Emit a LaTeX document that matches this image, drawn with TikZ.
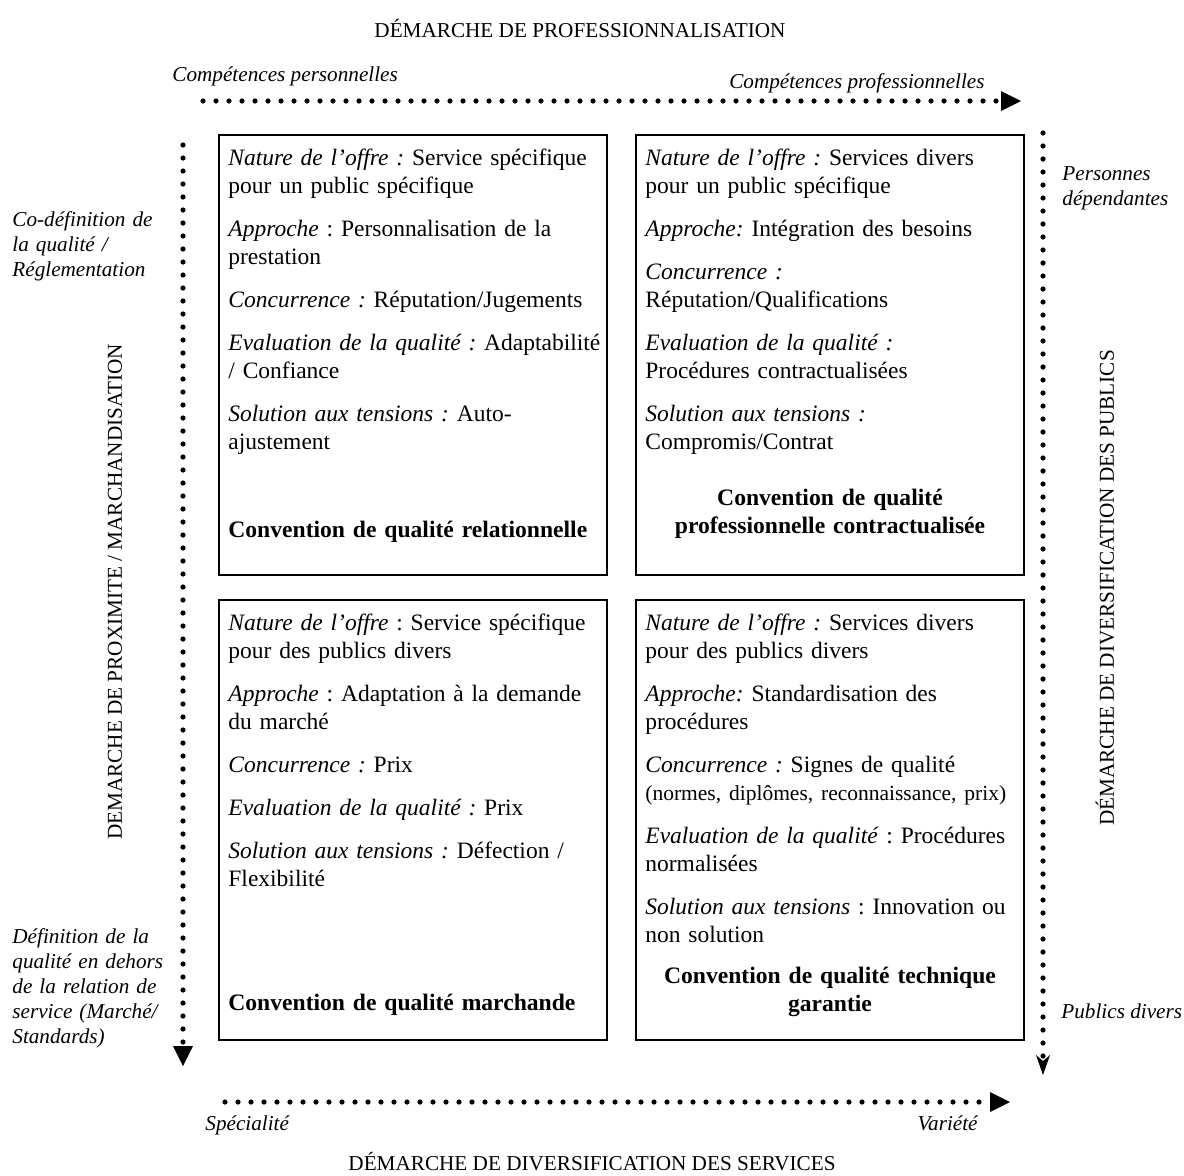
\documentclass[tikz,border=0pt]{standalone}
\usepackage{fontspec}
\setmainfont{Liberation Serif}
\usetikzlibrary{positioning, arrows.meta}
\frenchspacing

\begin{document}
\begin{tikzpicture}[x=0.5pt, y=-0.5pt,
      quad/.style={draw, line width=1pt, minimum width=194pt,
        minimum height=220pt, inner sep=0pt},
      contenu/.style={anchor=base west, inner sep=0pt, text width=200pt,
        align=left, font=\fontsize{11.75}{14}\selectfont},
      convention/.style={inner sep=0pt, text width=190pt,
        font=\fontsize{11.8}{14}\selectfont\bfseries},
      demarche/.style={inner sep=0pt, font=\fontsize{10.6}{13}\selectfont},
      pole/.style={inner sep=0pt, align=left,
        font=\fontsize{10.6}{12.5}\selectfont\itshape},
      pointille/.style={line width=2.6pt, line cap=round,
        dash pattern=on 0pt off 6.5pt},
      fleche/.style={pointille, -{Triangle[length=10pt, width=10pt, line width=0pt]}},
      fleche fine/.style={pointille, -{Stealth[length=10pt, width=7pt, inset=3pt, line width=0pt]}}]
    \useasboundingbox (0,0) rectangle (1184,1175);
    \fill[white] (0,0) rectangle (1184,1175);
    \node[quad] (hg) at (413,355) {};
    \node[quad, right=13.5pt of hg] (hd) {};
    \node[quad, below=11.5pt of hg] (bg) {};
    \node[quad, right=13.5pt of bg] (bd) {};
    \node[contenu] (hg-txt) at ([shift={(5pt,-15.75pt)}]hg.north west)
      {\textit{Nature de l’offre :} Service spécifique\\ pour un public spécifique\\[7.5pt]
       \textit{Approche} : Personnalisation de la\\ prestation\\[7.5pt]
       \textit{Concurrence :} Réputation/Jugements\\[7.5pt]
       \textit{Evaluation de la qualité :} Adaptabilité\\ / Confiance\\[7.5pt]
       \textit{Solution aux tensions :} Auto-\\ ajustement};
    \node[contenu] (hd-txt) at ([shift={(5pt,-15.75pt)}]hd.north west)
      {\textit{Nature de l’offre :} Services divers\\ pour un public spécifique\\[7.5pt]
       \textit{Approche:} Intégration des besoins\\[7.5pt]
       \textit{Concurrence :}\\ Réputation/Qualifications\\[7.5pt]
       \textit{Evaluation de la qualité :}\\ Procédures contractualisées\\[7.5pt]
       \textit{Solution aux tensions :}\\ Compromis/Contrat};
    \node[contenu] (bg-txt) at ([shift={(5pt,-15.75pt)}]bg.north west)
      {\textit{Nature de l’offre} : Service spécifique\\ pour des publics divers\\[7.5pt]
       \textit{Approche} : Adaptation à la demande\\ du marché\\[7.5pt]
       \textit{Concurrence :} Prix\\[7.5pt]
       \textit{Evaluation de la qualité :} Prix\\[7.5pt]
       \textit{Solution aux tensions :} Défection /\\ Flexibilité};
    \node[contenu] (bd-txt) at ([shift={(5pt,-15.75pt)}]bd.north west)
      {\textit{Nature de l’offre :} Services divers\\ pour des publics divers\\[7.5pt]
       \textit{Approche:} Standardisation des\\ procédures\\[7.5pt]
       \textit{Concurrence :} Signes de qualité\\
       {\fontsize{10.75}{14}\selectfont (normes, diplômes, reconnaissance, prix)}\\[7.5pt]
       \textit{Evaluation de la qualité} : Procédures\\ normalisées\\[7.5pt]
       \textit{Solution aux tensions} : Innovation ou\\ non solution};
    \node[convention, align=left, anchor=base west] (hg-conv)
      at ([shift={(5pt,-201.75pt)}]hg.north west) {Convention de qualité relationnelle};
    \node[convention, align=center, anchor=base] (hd-conv)
      at ([yshift=-185.75pt]hd.north) {Convention de qualité\\ professionnelle contractualisée};
    \node[convention, align=left, anchor=base west] (bg-conv)
      at ([shift={(5pt,-205.75pt)}]bg.north west) {Convention de qualité marchande};
    \node[convention, align=center, anchor=base] (bd-conv)
      at ([yshift=-192.25pt]bd.north) {Convention de qualité technique\\ garantie};
    \node[demarche, anchor=base] (professionnalisation) at (580,37) {DÉMARCHE DE PROFESSIONNALISATION};
    \node[demarche, anchor=base] (services) at (592,1170) {DÉMARCHE DE DIVERSIFICATION DES SERVICES};
    \node[demarche, rotate=90] (proximite) at (115,592) {DEMARCHE DE PROXIMITE / MARCHANDISATION};
    \node[demarche, rotate=90] (publics) at (1105,588) {DÉMARCHE DE DIVERSIFICATION DES PUBLICS};
    \node[pole, anchor=base west] (personnelles) at (172,81) {Compétences personnelles};
    \node[pole, anchor=base east] (professionnelles) at (985,88) {Compétences professionnelles};
    \node[pole, anchor=base west, text width=90pt] (codefinition) at (12,226)
      {Co-définition de\\ la qualité /\\ Réglementation};
    \node[pole, anchor=base west, text width=90pt] (definition) at (12,943)
      {Définition de la\\ qualité en dehors\\ de la relation de\\ service (Marché/\\ Standards)};
    \node[pole, anchor=base west, text width=70pt] (dependantes) at (1062,180)
      {Personnes\\ dépendantes};
    \node[pole, anchor=base west] (divers) at (1061,1018) {Publics divers};
    \node[pole, anchor=base west] (specialite) at (205,1130) {Spécialité};
    \node[pole, anchor=base east] (variete) at (978,1130) {Variété};
    \coordinate (profA) at (203,101);
    \coordinate (profB) at (1021,101);
    \coordinate (proxA) at (183,145);
    \coordinate (proxB) at (183,1066);
    \coordinate (publA) at (1043,133);
    \coordinate (publB) at (1043,1075);
    \coordinate (servA) at (225,1102);
    \coordinate (servB) at (1010,1102);
    \draw[fleche] (profA) -- (profB);
    \draw[fleche] (proxA) -- (proxB);
    \draw[fleche fine] (publA) -- (publB);
    \draw[fleche] (servA) -- (servB);
  \end{tikzpicture}
\end{document}
